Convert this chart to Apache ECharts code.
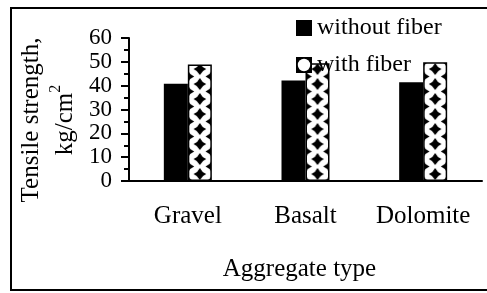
<!DOCTYPE html>
<html>
<head>
<meta charset="utf-8">
<script src="https://cdn.jsdelivr.net/npm/echarts@6/dist/echarts.min.js"></script>
<style>
  html, body { margin: 0; padding: 0; background: #fff; }
  #main { width: 487px; height: 293px; }
</style>
</head>
<body>
<div id="main"></div>
<script>
// data
var categories = ['Gravel', 'Basalt', 'Dolomite'];
var withoutFiber = [40.8, 42.2, 41.4];
var withFiber = [48.9, 49.4, 49.8];
var seriesNames = ['without fiber', 'with fiber'];

var FONT = 'Liberation Serif';

// white tile with black 4-pointed diamonds, like the excel fill
function makePattern() {
    var c = document.createElement('canvas');
    c.width = 24; c.height = 15;
    var g = c.getContext('2d');
    g.fillStyle = '#fff';
    g.fillRect(0, 0, 24, 15);
    g.fillStyle = '#000';
    var pts = [[12, 0], [12, 15], [0, 7.5], [24, 7.5]];
    pts.forEach(function (p) {
        var cx = p[0], cy = p[1], a = 6.3, b = 6, k = 0.3;
        g.beginPath();
        g.moveTo(cx, cy - b);
        g.quadraticCurveTo(cx + a * k, cy - b * k, cx + a, cy);
        g.quadraticCurveTo(cx + a * k, cy + b * k, cx, cy + b);
        g.quadraticCurveTo(cx - a * k, cy + b * k, cx - a, cy);
        g.quadraticCurveTo(cx - a * k, cy - b * k, cx, cy - b);
        g.closePath();
        g.fill();
    });
    return c;
}

// legend icon: black square with a white circle
function makeIcon() {
    var c = document.createElement('canvas');
    c.width = 16; c.height = 16;
    var g = c.getContext('2d');
    g.fillStyle = '#000';
    g.fillRect(0, 0, 16, 16);
    g.fillStyle = '#fff';
    g.beginPath();
    g.arc(8, 8, 6.2, 0, Math.PI * 2);
    g.fill();
    return c.toDataURL();
}

var pat = makePattern();
var myChart = echarts.init(document.getElementById('main'));

var option = {
    animation: false,
    textStyle: { fontFamily: FONT, color: '#000' },
    grid: { left: 129, right: 5, top: 38, bottom: 112 },
    legend: {
        orient: 'vertical',
        left: 296,
        top: 16,
        padding: 0,
        itemGap: 13,
        itemWidth: 16,
        itemHeight: 16,
        textStyle: { fontFamily: FONT, fontSize: 24, lineHeight: 24, color: '#000' },
        data: [
            { name: seriesNames[0], icon: 'rect' },
            { name: seriesNames[1], icon: 'image://' + makeIcon() }
        ]
    },
    xAxis: {
        type: 'category',
        data: categories,
        name: 'Aggregate type',
        nameLocation: 'middle',
        nameGap: 76,
        nameTextStyle: { fontFamily: FONT, fontSize: 25, color: '#000', padding: [0, 12, 0, 0] },
        axisLine: { lineStyle: { color: '#000', width: 2 } },
        axisTick: { show: false },
        axisLabel: { interval: 0, fontFamily: FONT, fontSize: 25, color: '#000', margin: 23 }
    },
    yAxis: {
        type: 'value',
        min: 0,
        max: 60,
        interval: 10,
        axisLine: { show: true, lineStyle: { color: '#000', width: 2 } },
        axisTick: { show: true, inside: false, length: 8, lineStyle: { color: '#000', width: 2 } },
        minorTick: { show: true, splitNumber: 2, length: 5, lineStyle: { color: '#000', width: 2 } },
        splitLine: { show: false },
        axisLabel: { fontFamily: FONT, fontSize: 23, color: '#000', margin: 17 }
    },
    graphic: [
        {
            type: 'rect',
            z: -1,
            shape: { x: 11, y: 8, width: 480, height: 282 },
            style: { fill: 'none', stroke: '#000', lineWidth: 2 }
        },
        {
            type: 'text',
            x: 48,
            y: 120,
            rotation: Math.PI / 2,
            style: {
                text: 'Tensile strength,\nkg/cm{sup|2}',
                fontFamily: FONT,
                fontSize: 25,
                lineHeight: 34,
                fill: '#000',
                align: 'center',
                verticalAlign: 'middle',
                rich: {
                    sup: { fontFamily: FONT, fontSize: 16, verticalAlign: 'top', lineHeight: 34, padding: [0, 0, 14, 0] }
                }
            }
        }
    ],
    series: [
        {
            name: seriesNames[0],
            type: 'bar',
            barWidth: 24,
            barGap: '0%',
            itemStyle: { color: '#000' },
            data: withoutFiber
        },
        {
            name: seriesNames[1],
            type: 'bar',
            barWidth: 24,
            barGap: '0%',
            itemStyle: { color: { image: pat, repeat: 'repeat' }, borderColor: '#000', borderWidth: 1.5 },
            data: withFiber
        }
    ]
};

myChart.setOption(option);

// line the fill tile up with each bar's left edge
var y0 = myChart.convertToPixel({ yAxisIndex: 0 }, 0);
myChart.setOption({
    series: [{}, {
        data: withFiber.map(function (v, i) {
            var x0 = myChart.convertToPixel({ xAxisIndex: 0 }, i);
            return {
                value: v,
                itemStyle: { color: { image: pat, repeat: 'repeat', x: x0, y: y0 - 7 } }
            };
        })
    }]
});
</script>
</body>
</html>
